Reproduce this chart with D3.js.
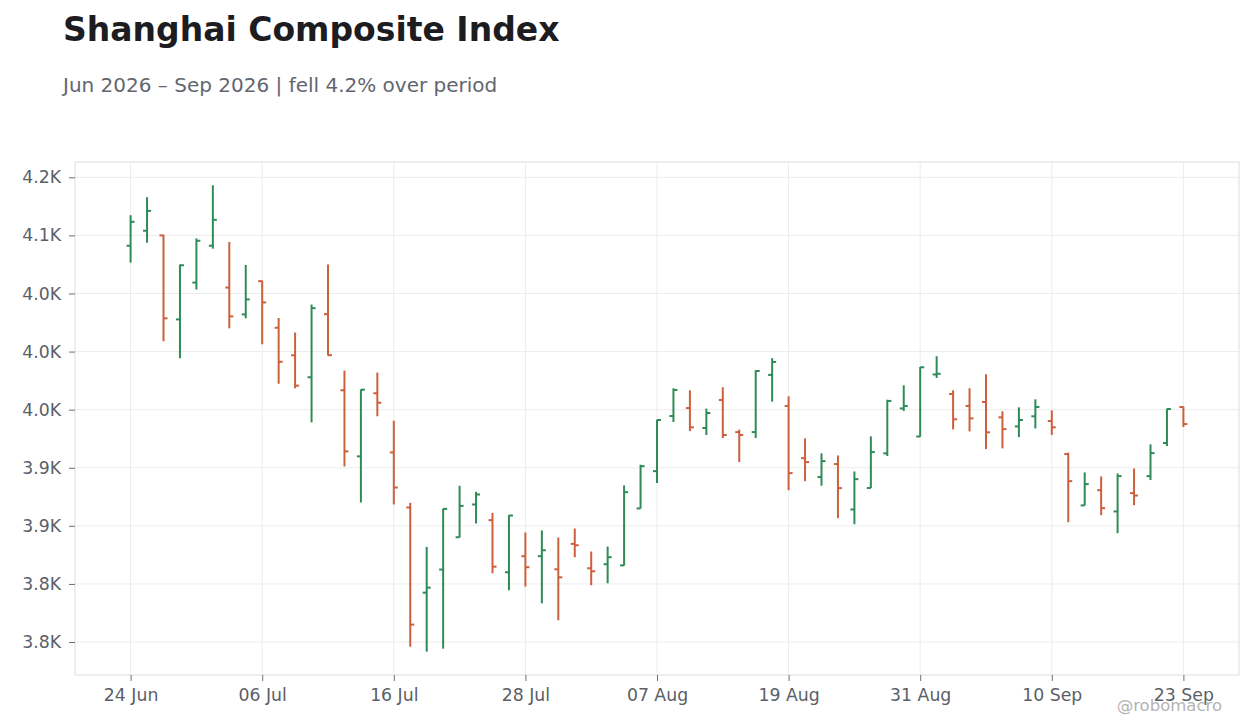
<!DOCTYPE html>
<html>
<head>
    <title>Shanghai Composite Index</title>
    <script src="https://d3js.org/d3.v7.min.js"></script>
    <style>
        body { margin: 0; background: #fff; }
        text { font-family: "DejaVu Sans", sans-serif; }
    </style>
</head>
<body>
    <div id="chart"></div>

    <script>
        // trading days (one Sep day missing in the source)
        const dates = [
            '2026-06-24', '2026-06-25', '2026-06-26', '2026-06-29', '2026-06-30',
            '2026-07-01', '2026-07-02', '2026-07-03', '2026-07-06', '2026-07-07',
            '2026-07-08', '2026-07-09', '2026-07-10', '2026-07-13', '2026-07-14',
            '2026-07-15', '2026-07-16', '2026-07-17', '2026-07-20', '2026-07-21',
            '2026-07-22', '2026-07-23', '2026-07-24', '2026-07-27', '2026-07-28',
            '2026-07-29', '2026-07-30', '2026-07-31', '2026-08-03', '2026-08-04',
            '2026-08-05', '2026-08-06', '2026-08-07', '2026-08-10', '2026-08-11',
            '2026-08-12', '2026-08-13', '2026-08-14', '2026-08-17', '2026-08-18',
            '2026-08-19', '2026-08-20', '2026-08-21', '2026-08-24', '2026-08-25',
            '2026-08-26', '2026-08-27', '2026-08-28', '2026-08-31', '2026-09-01',
            '2026-09-02', '2026-09-03', '2026-09-04', '2026-09-07', '2026-09-08',
            '2026-09-09', '2026-09-10', '2026-09-11', '2026-09-14', '2026-09-15',
            '2026-09-16', '2026-09-17', '2026-09-18', '2026-09-22', '2026-09-23'
        ];

        const opens = [
            4091.1, 4104.0, 4100.0, 4027.7, 4059.4, 4091.1, 4055.1, 4032.0, 4060.6, 4020.5,
            3996.8, 3977.9, 4032.2, 3966.7, 3909.8, 3964.1, 3913.2, 3865.8, 3792.5, 3812.4,
            3840.2, 3868.4, 3854.9, 3810.1, 3823.9, 3823.9, 3812.6, 3834.5, 3813.5, 3817.0,
            3816.0, 3865.0, 3897.1, 3944.5, 3951.4, 3934.2, 3958.3, 3930.7, 3930.7, 3979.9,
            3953.2, 3908.3, 3892.0, 3903.2, 3864.1, 3882.6, 3912.4, 3951.1, 3926.9, 3980.3,
            3963.5, 3953.2, 3956.6, 3943.4, 3935.6, 3944.3, 3940.2, 3911.8, 3867.6, 3880.7,
            3862.4, 3878.2, 3892.8, 3921.3, 3952.3
        ];
        const highs = [
            4117.4, 4132.9, 4100.5, 4074.9, 4097.4, 4143.1, 4094.3, 4074.6, 4061.1, 4028.9,
            4016.4, 4040.5, 4075.0, 3983.6, 3967.5, 3981.9, 3940.5, 3869.8, 3831.9, 3864.9,
            3884.5, 3879.3, 3861.2, 3859.2, 3844.3, 3846.0, 3840.0, 3847.7, 3827.9, 3832.2,
            3884.8, 3902.6, 3941.4, 3968.4, 3966.7, 3950.9, 3969.3, 3932.8, 3983.9, 3994.3,
            3961.5, 3925.3, 3912.4, 3910.6, 3896.8, 3927.0, 3958.6, 3971.0, 3986.8, 3996.0,
            3966.7, 3968.4, 3980.5, 3948.6, 3952.0, 3958.9, 3949.4, 3913.0, 3896.0, 3892.5,
            3895.1, 3899.4, 3920.1, 3950.9, 3952.6
        ];
        const lows = [
            4076.6, 4093.7, 4008.9, 3994.3, 4053.4, 4088.6, 4020.0, 4028.6, 4006.3, 3972.3,
            3968.4, 3939.1, 3996.6, 3901.1, 3870.1, 3944.3, 3868.4, 3746.0, 3741.7, 3744.3,
            3840.0, 3852.0, 3809.2, 3794.5, 3797.7, 3783.3, 3768.7, 3823.0, 3798.9, 3800.6,
            3815.8, 3864.9, 3886.8, 3939.4, 3931.6, 3928.2, 3925.6, 3904.9, 3925.6, 3956.9,
            3880.7, 3888.5, 3884.5, 3856.6, 3851.4, 3882.5, 3910.1, 3948.9, 3926.7, 3977.3,
            3933.0, 3931.3, 3916.1, 3916.7, 3926.4, 3933.9, 3928.2, 3853.2, 3867.5, 3859.2,
            3843.7, 3867.8, 3889.4, 3918.7, 3935.1
        ];
        const closes = [
            4111.7, 4121.1, 4028.6, 4074.3, 4095.4, 4113.4, 4030.3, 4044.9, 4042.3, 3991.2,
            3970.7, 4037.4, 3996.9, 3914.1, 3967.2, 3956.0, 3883.0, 3765.0, 3796.8, 3864.6,
            3867.2, 3877.0, 3814.9, 3858.9, 3814.4, 3829.0, 3805.7, 3833.3, 3810.9, 3823.0,
            3879.0, 3901.4, 3941.1, 3967.0, 3934.8, 3947.1, 3928.2, 3928.2, 3983.3, 3991.1,
            3895.4, 3904.9, 3905.7, 3882.5, 3890.2, 3913.5, 3957.5, 3953.2, 3986.5, 3980.9,
            3941.7, 3942.5, 3930.5, 3933.3, 3941.1, 3952.3, 3934.8, 3888.5, 3885.9, 3865.2,
            3892.8, 3876.1, 3912.6, 3950.6, 3937.6
        ];

        const yTicks = [3750, 3800, 3850, 3900, 3950, 4000, 4050, 4100, 4150];
        const xTickDates = ['2026-06-24', '2026-07-06', '2026-07-16', '2026-07-28', '2026-08-07',
                            '2026-08-19', '2026-08-31', '2026-09-10', '2026-09-23'];

        const titleText = 'Shanghai Composite Index';
        const subtitleText = 'Jun 2026 \u2013 Sep 2026 | fell 4.2% over period';

        const upColor = '#2e8b57';
        const downColor = '#cd5f3c';

        const W = 1260, H = 728;
        const margin = { top: 162, right: 21, bottom: 53, left: 75 };
        const width = W - margin.left - margin.right;
        const height = H - margin.top - margin.bottom;

        const data = dates.map((d, i) => ({
            date: d, open: opens[i], high: highs[i], low: lows[i], close: closes[i]
        }));

        const svg = d3.select('#chart')
            .append('svg')
            .attr('width', W)
            .attr('height', H);

        svg.append('text')
            .attr('x', 63).attr('y', 41)
            .attr('font-size', 33).attr('font-weight', 'bold')
            .attr('fill', '#1c1c21')
            .text(titleText);

        svg.append('text')
            .attr('x', 63).attr('y', 92)
            .attr('font-size', 20)
            .attr('fill', '#62666f')
            .text(subtitleText);

        const g = svg.append('g')
            .attr('transform', `translate(${margin.left},${margin.top})`);

        const x = d3.scalePoint()
            .domain(dates)
            .range([0, width])
            .padding(3.38);

        const lo = d3.min(lows), hi = d3.max(highs);
        const pad = (hi - lo) * 0.05;
        const y = d3.scaleLinear()
            .domain([lo - pad, hi + pad])
            .range([height, 0]);

        // grid
        g.append('g')
            .selectAll('line')
            .data(yTicks)
            .join('line')
            .attr('x1', 0).attr('x2', width)
            .attr('y1', d => y(d)).attr('y2', d => y(d))
            .attr('stroke', '#ececec');

        g.append('g')
            .selectAll('line')
            .data(xTickDates)
            .join('line')
            .attr('x1', d => x(d)).attr('x2', d => x(d))
            .attr('y1', 0).attr('y2', height)
            .attr('stroke', '#ececec');

        g.append('rect')
            .attr('width', width).attr('height', height)
            .attr('fill', 'none')
            .attr('stroke', '#dddddd');

        const fmtY = v => (v / 1000).toFixed(1) + 'K';
        const fmtX = d3.utcFormat('%d %b');
        const parse = d3.utcParse('%Y-%m-%d');

        const yAxis = g.append('g')
            .call(d3.axisLeft(y).tickValues(yTicks).tickFormat(fmtY).tickSize(6).tickPadding(8));

        const xAxis = g.append('g')
            .attr('transform', `translate(0,${height})`)
            .call(d3.axisBottom(x).tickValues(xTickDates).tickFormat(d => fmtX(parse(d))).tickSize(6).tickPadding(8));

        [yAxis, xAxis].forEach(a => {
            a.select('.domain').remove();
            a.selectAll('.tick line').attr('stroke', '#6b6f78');
            a.selectAll('.tick text')
                .attr('fill', '#5b5f68')
                .style('font-size', '17.3px')
                .style('font-family', '"DejaVu Sans", sans-serif');
        });

        // OHLC bars
        const bars = g.append('g')
            .selectAll('g')
            .data(data)
            .join('g')
            .attr('stroke', d => d.close >= d.open ? upColor : downColor)
            .attr('stroke-width', 2);

        bars.append('line')
            .attr('x1', d => x(d.date)).attr('x2', d => x(d.date))
            .attr('y1', d => y(d.high)).attr('y2', d => y(d.low));

        bars.append('line')
            .attr('x1', d => x(d.date) - 4).attr('x2', d => x(d.date))
            .attr('y1', d => y(d.open)).attr('y2', d => y(d.open));

        bars.append('line')
            .attr('x1', d => x(d.date)).attr('x2', d => x(d.date) + 4)
            .attr('y1', d => y(d.close)).attr('y2', d => y(d.close));

        svg.append('text')
            .attr('x', 1222).attr('y', 711)
            .attr('text-anchor', 'end')
            .attr('font-size', 16.5)
            .attr('fill', '#b3b3b3')
            .text('@robomacro');
    </script>
</body>
</html>
